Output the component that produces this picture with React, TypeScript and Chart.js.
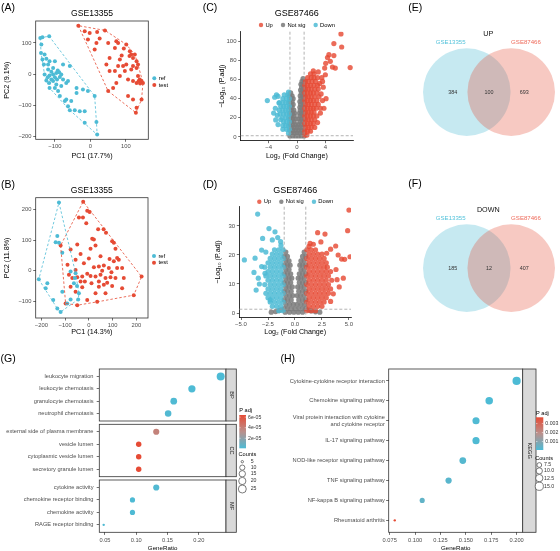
import React, { useEffect, useRef } from "react";
import { Chart, registerables } from "chart.js";

Chart.register(...registerables);

const W = 560;
const H = 551;
const FONT = "'Liberation Sans', Arial, Helvetica, sans-serif";
const RED = "#E64B35";
const BLUE = "#4DBBD5";
const TICK_TEXT = "#4D4D4D";
const LINE = "#333333";

type P = [number, number];

// ---------------- (A)/(B) PCA ----------------
const pcaTitle = "GSE13355";
const pcaGroups = ["ref", "test"];
const pcaATitles = ["PC1 (17.7%)", "PC2 (9.1%)"];
const pcaBTitles = ["PC1 (14.3%)", "PC2 (11.8%)"];
const pcaATicksX = [-100, 0, 100];
const pcaATicksY = [-200, -100, 0, 100];
const pcaBTicksX = [-200, -100, 0, 100, 200];
const pcaBTicksY = [-100, 0, 100, 200];

const pcaARef: P[] = [
  [-141, 116], [-135, 118], [-116, 121], [-138, 95], [-139, 68], [-129, 63], [-135, 47], [-124, 49],
  [-131, 31], [-115, 41], [-119, 15], [-105, 20], [-100, 41], [-129, -1], [-115, -4], [-105, -1],
  [-96, 4], [-88, 6], [-82, -1], [-77, -17], [-94, -17], [-105, -22], [-116, -28], [-124, -20],
  [-115, -44], [-100, -44], [-91, -54], [-82, -38], [-68, -28], [-63, -22], [-58, 26], [-77, 31],
  [-86, -70], [-68, -81], [-54, -86], [-39, -60], [-39, -44], [-21, -49], [-7, -54], [-44, -115],
  [-58, -115], [-30, -118], [-16, -118], [-16, -155], [12, -70], [17, -153], [19, -193], [-63, -102],
  [-72, -86], [-96, -33], [-110, -17], [-86, -9], [-119, 31], [-110, 8], [-92, 12], [-120, -10], [-100, -10],
];
const pcaATest: P[] = [
  [-34, 155], [-2, 132], [19, 135], [41, 140], [26, 114], [50, 100], [73, 105], [78, 100], [69, 84],
  [94, 82], [101, 95], [111, 73], [115, 63], [120, 52], [125, 63], [130, 41], [120, 26], [130, 20],
  [134, -6], [139, -17], [144, -22], [148, -28], [130, -28], [120, -22], [106, -17], [97, 10], [92, 26],
  [78, 26], [69, 10], [54, 10], [45, 31], [54, 52], [17, 100], [12, 79], [-7, 111], [-16, 137], [83, 47],
  [106, -70], [120, -81], [130, -107], [128, -123], [144, -81], [50, -54], [64, -44], [73, -28], [83, -6],
  [101, 31], [115, 15], [134, 31], [140, -30], [136, -22], [110, 58], [88, 60],
];
const pcaBRef: P[] = [
  [-126, 224], [-133, 114], [-140, 94], [-126, 92], [-112, 59], [-211, -28], [-182, -57], [-175, -41],
  [-150, -96], [-133, -124], [-119, -135], [-112, -69], [-77, -94], [-91, -107], [-42, -74], [-59, -24],
  [-77, -2], [-63, -41], [-45, -94], [-50, -50], [-56, -8],
];
const pcaBTest: P[] = [
  [-24, 227], [-7, 197], [3, 193], [-11, 156], [-42, 175], [-25, 175], [-119, 83], [-77, 70], [-49, 86],
  [39, 136], [62, 136], [72, 125], [14, 105], [21, 103], [28, 83], [7, 72], [98, 97], [105, 92], [112, 72],
  [49, 48], [87, 39], [119, 42], [126, 36], [105, 31], [-56, 36], [-21, 25], [21, 12], [42, 14], [63, 17],
  [84, 9], [119, 9], [140, 9], [-84, -13], [-70, -24], [-49, -21], [-28, -19], [-7, -10], [7, -17],
  [28, -19], [49, -13], [70, -24], [91, -21], [112, -24], [147, -24], [222, -19], [189, -80], [140, -57],
  [98, -50], [63, -46], [42, -52], [28, -74], [70, -74], [35, -102], [-7, -96], [-28, -54], [-56, -69],
  [-77, -52], [-98, -107], [-49, -113], [-35, -35], [-17, -35], [11, -41], [42, -35], [77, -39], [-56, 3],
  [0, 40], [-35, 55], [56, 0], [95, -5], [-90, 20],
];

// ---------------- (C)/(D) volcano ----------------
// dense cores are listed as rows: [-log10(padj), log2FC, log2FC, ...]
const volcTitle = "GSE87466";
const volcGroups = ["Up", "Not sig", "Down"];
const volcXTitle = "Log\u2082 (Fold Change)";
const volcYTitle = "\u2212Log\u2081\u2080 (P.adj)";
const fcCutoff = 1;
const padjCutoff = 0.05;
const volcCTicksX = [-4, 0, 4];
const volcCTicksY = [0, 20, 40, 60, 80, 100];
const volcDTicksX = [-5, -2.5, 0, 2.5, 5];
const volcDTicksY = [0, 10, 20, 30];

const volcCNotRows: number[][] = [
  [1, -1.0, -0.6, -0.2, 0.2, 0.6, 1.0], [4, -0.8, -0.4, 0, 0.4, 0.8], [7, -1.0, -0.6, -0.2, 0.2, 0.6, 1.0],
  [10, -0.8, -0.4, 0, 0.4, 0.8], [13, -1.0, -0.6, -0.2, 0.2, 0.6, 1.0], [16, -0.8, -0.4, 0.4, 0.8],
  [19, -1.0, -0.6, -0.25, 0.25, 0.6, 1.0], [22, -0.8, -0.4, 0.4, 0.8], [25, -1.0, -0.65, -0.35, 0.35, 0.65, 1.0],
  [28, -0.8, -0.45, 0.45, 0.8], [31, -1.0, -0.7, 0.4, 0.7, 1.0], [34, -0.85, -0.55, 0.5, 0.85],
  [37, -1.05, -0.7, 0.4, 0.7, 1.0], [40, -0.85, -0.55, 0.55, 0.85], [43, -1.05, -0.7, 0.45, 0.75, 1.0],
  [46, -0.9, 0.6, 0.9], [49, 0.5, 0.8, 1.0], [52, 0.65, 0.95], [55, 0.55, 0.85], [58, 0.7, 1.0], [61, 0.85],
];
const volcCUpRows: number[][] = [
  [2, 1.1, 1.4], [6, 1.1, 1.5, 1.9], [10, 1.2, 1.6, 2.0], [14, 1.1, 1.5, 1.9, 2.3], [18, 1.2, 1.6, 2.0, 2.5],
  [22, 1.1, 1.5, 1.9, 2.3, 2.8], [26, 1.2, 1.6, 2.0, 2.4], [30, 1.1, 1.5, 1.9, 2.3, 2.7, 3.3],
  [34, 1.2, 1.6, 2.0, 2.5, 3.0], [38, 1.1, 1.5, 1.9, 2.3, 2.8, 3.6], [42, 1.2, 1.6, 2.0, 2.5, 3.1],
  [46, 1.1, 1.5, 1.9, 2.3, 2.8], [50, 1.2, 1.6, 2.0, 2.5, 3.0], [54, 1.1, 1.5, 1.9, 2.4, 2.9],
  [58, 1.2, 1.6, 2.1, 2.6], [62, 1.5, 2.0, 2.4, 2.9], [66, 1.9, 2.4],
];
const volcCUpOut: P[] = [
  [2.3, 69], [3.0, 68], [3.5, 62], [4.0, 65], [3.2, 56], [3.7, 52], [3.4, 45], [4.1, 40], [3.8, 30],
  [3.3, 25], [2.9, 15], [2.5, 10], [3.9, 72], [4.05, 77], [4.3, 83], [4.7, 79], [5.2, 85], [5.4, 72],
  [5.2, 97.6], [6.2, 107.7], [6.3, 94], [7.5, 72.5], [4.5, 86], [5.0, 73], [3.6, 58],
];
const volcCDownRows: number[][] = [
  [4, -1.2], [8, -1.1, -1.5], [12, -1.2, -1.6, -2.0], [16, -1.1, -1.5, -1.9], [20, -1.2, -1.6, -2.1],
  [24, -1.1, -1.5, -1.9, -2.4], [28, -1.2, -1.6, -2.0], [32, -1.1, -1.5, -1.9, -2.3],
  [36, -1.2, -1.6, -2.0, -2.5], [40, -1.1, -1.5, -2.0], [44, -1.3, -1.8], [47, -1.2],
];
const volcCDownOut: P[] = [
  [-4.19, 38], [-3.15, 41.5], [-2.68, 42.5], [-2.54, 35.5], [-3.06, 30], [-2.78, 22.6], [-3.01, 17.8],
  [-2.68, 12.9], [-2.0, 8], [-3.3, 25], [-2.9, 44], [-2.3, 18], [-2.5, 28],
];

const volcDNotRows: number[][] = [
  [0.3, -0.9, -0.5, -0.1, 0.3, 0.7], [1.5, -1.0, -0.7, -0.35, 0, 0.35, 0.7, 1.0],
  [3, -0.85, -0.5, -0.15, 0.2, 0.55, 0.9], [4.5, -1.0, -0.7, -0.35, 0.35, 0.7, 1.0],
  [6, -0.85, -0.5, -0.2, 0.2, 0.5, 0.85], [7.5, -1.0, -0.7, -0.35, 0.35, 0.7, 1.0],
  [9, -0.85, -0.55, -0.25, 0.25, 0.55, 0.85], [10.5, -1.0, -0.7, -0.4, 0.4, 0.7, 1.0],
  [12, -0.85, -0.55, -0.3, 0.3, 0.55, 0.85], [13.5, -1.0, -0.7, -0.4, 0.4, 0.7, 1.0],
  [15, -0.85, -0.55, 0.55, 0.85], [16.5, -1.0, -0.7, -0.45, 0.45, 0.7, 1.0], [18, -0.85, -0.55, 0.55, 0.85],
  [19.5, -1.0, -0.7, 0.7, 1.0], [21, -0.85, 0.85],
];
const volcDNotOut: P[] = [
  [-1.5, 0.8], [-1.8, 0.5], [1.5, 0.7], [1.9, 0.4], [-1.3, 1.1], [1.3, 1.0], [-2.2, 0.3], [2.3, 0.3],
];
const volcDUpRows: number[][] = [
  [0.8, 1.1, 1.5, 1.9], [2.3, 1.3, 1.7, 2.1, 2.5], [3.8, 1.1, 1.5, 1.9, 2.3, 2.7],
  [5.3, 1.3, 1.7, 2.1, 2.5, 2.9], [6.8, 1.1, 1.5, 1.9, 2.3, 2.7, 3.1], [8.3, 1.3, 1.7, 2.1, 2.5, 2.9, 3.3],
  [9.8, 1.1, 1.5, 1.9, 2.3, 2.7, 3.1], [11.3, 1.3, 1.7, 2.1, 2.5, 2.9, 3.4], [12.8, 1.1, 1.5, 1.9, 2.3, 2.7, 3.1],
  [14.3, 1.3, 1.7, 2.1, 2.5, 2.9, 3.3], [15.8, 1.1, 1.5, 1.9, 2.3, 2.7, 3.0], [17.3, 1.3, 1.7, 2.1, 2.5, 2.9],
  [18.8, 1.1, 1.5, 1.9, 2.3, 2.7], [20.3, 1.3, 1.7, 2.1, 2.5], [21.8, 1.1, 1.5, 1.9], [23, 1.3],
];
const volcDUpOut: P[] = [
  [5.0, 35.5], [4.88, 28.4], [5.1, 19.4], [2.1, 27.7], [2.78, 27.2], [3.77, 23.1], [4.32, 18.6],
  [4.6, 18.5], [4.48, 12], [3.55, 6.6], [1.7, 23.7], [2.93, 20.6], [4.0, 20], [3.8, 15], [4.1, 9],
  [3.3, 4], [2.4, 24.5], [1.4, 24], [3.3, 22], [3.9, 11.5],
];
const volcDDownRows: number[][] = [
  [0.8, -1.1, -1.5], [2.3, -1.3, -1.7, -2.1], [3.8, -1.1, -1.5, -1.9, -2.3], [5.3, -1.3, -1.7, -2.1, -2.5],
  [6.8, -1.1, -1.5, -1.9, -2.3, -2.7], [8.3, -1.3, -1.7, -2.1, -2.5], [9.8, -1.1, -1.5, -1.9, -2.3, -2.8],
  [11.3, -1.3, -1.7, -2.1, -2.5], [12.8, -1.1, -1.5, -1.9, -2.3, -2.7], [14.3, -1.3, -1.7, -2.1, -2.5],
  [15.8, -1.1, -1.5, -1.9, -2.3, -2.8], [17.3, -1.3, -1.7, -2.1, -2.5], [18.8, -1.1, -1.5, -1.9, -2.3],
  [20.3, -1.3, -1.7, -2.1], [21.8, -1.1, -1.5, -1.9], [23.3, -1.3],
];
const volcDDownOut: P[] = [
  [-3.46, 34.1], [-2.41, 29.1], [-1.85, 28], [-3.0, 25.7], [-2.1, 25.2], [-1.33, 24.6], [-4.69, 18.3],
  [-3.7, 18.9], [-3.09, 21.7], [-3.4, 12], [-3.6, 7.9], [-3.09, 16], [-2.78, 13.7], [-2.3, 4.5],
  [-3.3, 10], [-3.8, 14], [-2.7, 21], [-1.6, 26],
];

// ---------------- (E)/(F) Venn ----------------
const vennSets = ["GSE13355", "GSE87466"];
const vennTitles = ["UP", "DOWN"];
const vennUpCounts = [384, 100, 693];
const vennDownCounts = [185, 12, 407];

// ---------------- (G) GO dot plot ----------------
const goFacets = ["BP", "CC", "MF"];
const goXTitle = "GeneRatio";
const goBPTerms = ["leukocyte migration", "leukocyte chemotaxis", "granulocyte chemotaxis", "neutrophil chemotaxis"];
const goBPRatio = [0.235, 0.189, 0.16, 0.151];
const goBPCount = [25, 20, 17, 16];
const goBPPadj = [1.1e-6, 1.3e-6, 2.0e-6, 2.4e-6];
const goCCTerms = ["external side of plasma membrane", "vesicle lumen", "cytoplasmic vesicle lumen", "secretory granule lumen"];
const goCCRatio = [0.132, 0.104, 0.104, 0.104];
const goCCCount = [14, 11, 11, 11];
const goCCPadj = [3.9e-5, 6.4e-5, 6.4e-5, 6.4e-5];
const goMFTerms = ["cytokine activity", "chemokine receptor binding", "chemokine activity", "RAGE receptor binding"];
const goMFRatio = [0.132, 0.094, 0.094, 0.048];
const goMFCount = [14, 10, 10, 5];
const goMFPadj = [2.5e-6, 1.5e-6, 1.5e-6, 1.9e-6];
const goTicksX = [0.05, 0.1, 0.15, 0.2];
const goPadjBreaks = [2e-5, 4e-5, 6e-5];
const goCountBreaks = [5, 10, 15, 20, 25];

// ---------------- (H) KEGG dot plot ----------------
const keggFacet = "KEGG";
const keggTerms: (string | string[])[] = [
  "Cytokine-cytokine receptor interaction",
  "Chemokine signaling pathway",
  ["Viral protein interaction with cytokine", "and cytokine receptor"],
  "IL-17 signaling pathway",
  "NOD-like receptor signaling pathway",
  "TNF signaling pathway",
  "NF-kappa B signaling pathway",
  "Rheumatoid arthritis",
];
const keggRatio = [0.2, 0.173, 0.16, 0.16, 0.147, 0.133, 0.107, 0.08];
const keggCount = [15, 13, 12, 12, 11, 10, 8, 6];
const keggPadj = [6.0e-5, 6.5e-5, 1.2e-4, 1.0e-4, 2.0e-4, 2.6e-4, 4.0e-4, 3.7e-3];
const keggTicksX = [0.075, 0.1, 0.125, 0.15, 0.175, 0.2];
const keggPadjBreaks = [0.001, 0.002, 0.003];
const keggCountBreaks = [7.5, 10, 12.5, 15];

// ---------------- helpers ----------------
const fromRows = (rows: number[][]): P[] => rows.flatMap(([y, ...xs]) => xs.map((x) => [x, y] as P));
const fmtMinus = (v: number, d = 0) => (v < 0 ? "\u2212" : "") + Math.abs(v).toFixed(d);
const fmtExp = (v: number) => {
  const [m, e] = v.toExponential(0).split("e");
  const n = Number(e);
  return `${m}e${n < 0 ? "-" : "+"}${String(Math.abs(n)).padStart(2, "0")}`;
};

function convexHull(pts: P[]): P[] {
  const p = [...pts].sort((a, b) => a[0] - b[0] || a[1] - b[1]);
  const cross = (o: P, a: P, b: P) => (a[0] - o[0]) * (b[1] - o[1]) - (a[1] - o[1]) * (b[0] - o[0]);
  const lower: P[] = [];
  for (const q of p) {
    while (lower.length >= 2 && cross(lower[lower.length - 2], lower[lower.length - 1], q) <= 0) lower.pop();
    lower.push(q);
  }
  const upper: P[] = [];
  for (const q of [...p].reverse()) {
    while (upper.length >= 2 && cross(upper[upper.length - 2], upper[upper.length - 1], q) <= 0) upper.pop();
    upper.push(q);
  }
  upper.pop();
  lower.pop();
  const h = lower.concat(upper);
  h.push(h[0]);
  return h;
}

const LOWC = [77, 187, 213];
const MIDC = [186, 144, 140];
const HIGHC = [230, 75, 53];
function mix(a: number[], b: number[], t: number) {
  return a.map((v, i) => Math.round(v + (b[i] - v) * t));
}
function gradColor(v: number, range: number[]) {
  let t = (v - range[0]) / (range[1] - range[0]);
  t = Math.max(0, Math.min(1, t));
  const c = t < 0.5 ? mix(LOWC, MIDC, t * 2) : mix(MIDC, HIGHC, (t - 0.5) * 2);
  return `rgb(${c[0]},${c[1]},${c[2]})`;
}
function sizeScale(c: number, cr: number[], rr: number[]) {
  const t = Math.max(0, (c - cr[0]) / (cr[1] - cr[0]));
  return rr[0] + (rr[1] - rr[0]) * Math.sqrt(t);
}

function drawText(ctx: CanvasRenderingContext2D, s: string, x: number, y: number, size: number, color = "#000", align: CanvasTextAlign = "center", rot = 0) {
  ctx.save();
  ctx.font = `${size}px ${FONT}`;
  ctx.fillStyle = color;
  ctx.textAlign = align;
  ctx.textBaseline = "middle";
  ctx.translate(x, y);
  if (rot) ctx.rotate(rot);
  ctx.fillText(s, 0, 0);
  ctx.restore();
}

function makeAxis(o: any) {
  return {
    type: "linear",
    min: o.min,
    max: o.max,
    reverse: !!o.reverse,
    afterBuildTicks: (s: any) => {
      s.ticks = o.ticks.map((v: number) => ({ value: v }));
    },
    afterFit: (s: any) => {
      if (o.horiz) s.height = o.fit;
      else s.width = o.fit;
    },
    ticks: {
      autoSkip: false,
      maxRotation: 0,
      minRotation: 0,
      padding: o.tickPad,
      color: TICK_TEXT,
      font: { family: FONT, size: o.tickSize, lineHeight: 1.2 },
      callback: (v: number) => o.fmt(v),
    },
    grid: { display: true, drawOnChartArea: false, drawTicks: true, tickLength: o.tickLen ?? 2.5, color: LINE, lineWidth: 0.7 },
    border: { display: !!o.border, color: "#000", width: 0.8 },
    title: o.title
      ? {
          display: true,
          text: o.title,
          color: "#000",
          font: { family: FONT, size: o.titleSize, lineHeight: o.titleLH ?? 1.2 },
          padding: o.horiz ? { top: 0, bottom: o.titlePad } : { top: o.titlePad, bottom: 0 },
        }
      : { display: false },
  };
}

function baseOptions(padding: any, scales: any) {
  return {
    responsive: false,
    maintainAspectRatio: false,
    animation: false,
    events: [],
    layout: { padding, autoPadding: false },
    plugins: { legend: { display: false }, tooltip: { enabled: false }, title: { display: false } },
    scales,
  };
}

const pts = (a: P[]) => a.map(([x, y]) => ({ x, y }));

// ---------------- PCA ----------------
function pcaConfig(o: any) {
  const { area } = o;
  return {
    type: "scatter",
    data: {
      datasets: [
        { data: pts(convexHull(o.ref)), showLine: true, fill: false, borderColor: BLUE, borderWidth: 0.8, borderDash: [2.5, 2], pointRadius: 0, tension: 0 },
        { data: pts(convexHull(o.test)), showLine: true, fill: false, borderColor: RED, borderWidth: 0.8, borderDash: [2.5, 2], pointRadius: 0, tension: 0 },
        { data: pts(o.ref), backgroundColor: BLUE, borderWidth: 0, pointRadius: 2 },
        { data: pts(o.test), backgroundColor: RED, borderWidth: 0, pointRadius: 2 },
      ],
    },
    options: baseOptions(
      { left: 0, top: area.t, right: W - area.r, bottom: H - o.regionBottom },
      {
        x: makeAxis({ horiz: true, min: o.xr[0], max: o.xr[1], ticks: o.ticksX, fmt: (v: number) => fmtMinus(v), fit: o.regionBottom - area.b, tickSize: 5.8, tickPad: 1.2, title: o.titles[0], titleSize: 7.2, titlePad: o.xTitlePad }),
        y: makeAxis({ horiz: false, min: o.yr[0], max: o.yr[1], ticks: o.ticksY, fmt: (v: number) => fmtMinus(v), fit: area.l, tickSize: 5.8, tickPad: 1.7, title: o.titles[1], titleSize: 7.2, titlePad: 3 }),
      }
    ),
    plugins: [
      {
        id: "pcaDeco",
        afterDatasetsDraw(chart: any) {
          const ctx = chart.ctx;
          const a = chart.chartArea;
          ctx.save();
          ctx.strokeStyle = LINE;
          ctx.lineWidth = 0.8;
          ctx.strokeRect(a.left, a.top, a.right - a.left, a.bottom - a.top);
          ctx.restore();
          drawText(ctx, pcaTitle, (a.left + a.right) / 2, o.titleY, 8.6);
          const cy = (a.top + a.bottom) / 2 + 1.5;
          [BLUE, RED].forEach((col, i) => {
            const y = cy + (i - 0.5) * 6.6;
            ctx.save();
            ctx.fillStyle = col;
            ctx.beginPath();
            ctx.arc(a.right + 6, y, 2, 0, Math.PI * 2);
            ctx.fill();
            ctx.restore();
            drawText(ctx, pcaGroups[i], a.right + 10.4, y, 5.8, "#000", "left");
          });
        },
      },
    ],
  };
}

// ---------------- Volcano ----------------
const VOLC_COLORS = ["rgba(230,75,53,0.82)", "rgba(125,125,125,0.88)", "rgba(77,187,213,0.85)"];
function volcConfig(o: any) {
  const { area } = o;
  const ds = (d: P[], c: string) => ({ data: pts(d), backgroundColor: c, borderWidth: 0, pointRadius: 2.6 });
  return {
    type: "scatter",
    data: { datasets: [ds(o.up, VOLC_COLORS[0]), ds(o.down, VOLC_COLORS[2]), ds(o.not, VOLC_COLORS[1])] },
    options: baseOptions(
      { left: 190, top: area.t, right: W - area.r, bottom: H - o.regionBottom },
      {
        x: makeAxis({ horiz: true, border: true, min: o.xr[0], max: o.xr[1], ticks: o.ticksX, fmt: o.fmtX, fit: o.regionBottom - area.b, tickSize: 6, tickPad: 0.4, title: volcXTitle, titleSize: 7.1, titlePad: o.xTitlePad }),
        y: makeAxis({ horiz: false, border: true, min: o.yr[0], max: o.yr[1], ticks: o.ticksY, fmt: (v: number) => fmtMinus(v), fit: area.l - 190, tickSize: 6, tickPad: 1.7, title: volcYTitle, titleSize: 7.1, titlePad: o.yTitlePad }),
      }
    ),
    plugins: [
      {
        id: "volcDeco",
        afterDatasetsDraw(chart: any) {
          const ctx = chart.ctx;
          const a = chart.chartArea;
          const sx = chart.scales.x;
          const sy = chart.scales.y;
          ctx.save();
          ctx.strokeStyle = "#9a9a9a";
          ctx.lineWidth = 0.75;
          ctx.setLineDash([3, 2]);
          [-fcCutoff, fcCutoff].forEach((v) => {
            const x = sx.getPixelForValue(v);
            ctx.beginPath();
            ctx.moveTo(x, a.top);
            ctx.lineTo(x, a.bottom);
            ctx.stroke();
          });
          const yh = sy.getPixelForValue(-Math.log10(padjCutoff));
          ctx.beginPath();
          ctx.moveTo(a.left, yh);
          ctx.lineTo(a.right, yh);
          ctx.stroke();
          ctx.restore();
          const cx = (a.left + a.right) / 2;
          drawText(ctx, volcTitle, cx, o.titleY, 9);
          ctx.save();
          ctx.font = `5.8px ${FONT}`;
          const r = 2.2, gap = 2.2, space = 8;
          const widths = volcGroups.map((l) => ctx.measureText(l).width);
          const total = widths.reduce((s, w) => s + 2 * r + gap + w, 0) + space * (volcGroups.length - 1);
          let x = cx - total / 2;
          ctx.restore();
          volcGroups.forEach((l, i) => {
            ctx.save();
            ctx.fillStyle = VOLC_COLORS[i];
            ctx.beginPath();
            ctx.arc(x + r, o.legendY, r, 0, Math.PI * 2);
            ctx.fill();
            ctx.restore();
            drawText(ctx, l, x + 2 * r + gap, o.legendY, 5.8, "#000", "left");
            x += 2 * r + gap + widths[i] + space;
          });
        },
      },
    ],
  };
}

// ---------------- Venn ----------------
const VENN_R = 0.986;
const VENN_FILLS = ["rgba(77,187,213,0.32)", "rgba(230,75,53,0.3)"];
const VENN_TEXT = ["#55C3DB", "#EE6A5A"];
function vennConfig(o: any) {
  return {
    type: "scatter",
    data: {
      datasets: vennSets.map((_, i) => ({
        data: [{ x: i, y: 0 }],
        backgroundColor: VENN_FILLS[i],
        borderWidth: 0,
        order: i === 0 ? 1 : 0,
        clip: false,
        pointRadius: (c: any) => {
          const s = c.chart.scales.x;
          return s.getPixelForValue(VENN_R) - s.getPixelForValue(0);
        },
      })),
    },
    options: baseOptions(
      { left: 380, right: 0, top: o.top, bottom: H - o.top - 175 },
      {
        x: { type: "linear", display: false, min: -1.955, max: 2.099 },
        y: { type: "linear", display: false, min: -1.87, max: 2.078 },
      }
    ),
    plugins: [
      {
        id: "vennText",
        afterDatasetsDraw(chart: any) {
          const ctx = chart.ctx;
          const sx = chart.scales.x;
          const sy = chart.scales.y;
          drawText(ctx, o.title, sx.getPixelForValue(0.484), sy.getPixelForValue(1.31), 7.2, "#111");
          drawText(ctx, vennSets[0], sx.getPixelForValue(-0.363), sy.getPixelForValue(1.115), 6.1, VENN_TEXT[0]);
          drawText(ctx, vennSets[1], sx.getPixelForValue(1.333), sy.getPixelForValue(1.115), 6.1, VENN_TEXT[1]);
          const cxs = [-0.318, 0.5, 1.295];
          o.counts.forEach((n: number, i: number) => {
            drawText(ctx, String(n), sx.getPixelForValue(cxs[i]), sy.getPixelForValue(0), 5.4, "#333");
          });
        },
      },
    ],
  };
}

// ---------------- Dot plots ----------------
function drawDotLegend(ctx: CanvasRenderingContext2D, L: any) {
  drawText(ctx, "P adj", L.x, L.titleY, 5.6, "#000", "left");
  const g = ctx.createLinearGradient(0, L.barBottom, 0, L.barTop);
  g.addColorStop(0, `rgb(${LOWC.join(",")})`);
  g.addColorStop(0.5, `rgb(${MIDC.join(",")})`);
  g.addColorStop(1, `rgb(${HIGHC.join(",")})`);
  ctx.save();
  ctx.fillStyle = g;
  ctx.fillRect(L.x, L.barTop, L.barW, L.barBottom - L.barTop);
  ctx.strokeStyle = "#fff";
  ctx.lineWidth = 0.5;
  L.breaks.forEach((b: number) => {
    const t = (b - L.pRange[0]) / (L.pRange[1] - L.pRange[0]);
    const y = L.barBottom - t * (L.barBottom - L.barTop);
    ctx.beginPath();
    ctx.moveTo(L.x, y);
    ctx.lineTo(L.x + L.barW * 0.2, y);
    ctx.moveTo(L.x + L.barW * 0.8, y);
    ctx.lineTo(L.x + L.barW, y);
    ctx.stroke();
    drawText(ctx, L.fmtP(b), L.x + L.barW + 2, y, 5.2, "#333", "left");
  });
  ctx.restore();
  drawText(ctx, "Counts", L.x - 0.8, L.countsY, 5.6, "#000", "left");
  let y = L.firstY;
  let prevR = 0;
  L.countBreaks.forEach((c: number, i: number) => {
    const r = sizeScale(c, L.cRange, L.rRange);
    if (i > 0) y += Math.max(5.9, prevR + r + 0.4);
    ctx.save();
    ctx.fillStyle = "#fff";
    ctx.strokeStyle = "#444";
    ctx.lineWidth = 0.7;
    ctx.beginPath();
    ctx.arc(L.circleX, y, r, 0, Math.PI * 2);
    ctx.fill();
    ctx.stroke();
    ctx.restore();
    drawText(ctx, L.fmtC(c), L.labelX, y, 5.2, "#333", "left");
    prevR = r;
  });
}

function dotConfig(o: any) {
  const { area } = o;
  const n = o.terms.length;
  return {
    type: "scatter",
    data: {
      datasets: [
        {
          data: o.ratio.map((x: number, i: number) => ({ x, y: i })),
          pointRadius: o.count.map((c: number) => sizeScale(c, o.cRange, o.rRange)),
          backgroundColor: o.padj.map((p: number) => gradColor(p, o.pRange)),
          borderWidth: 0,
          clip: false,
        },
      ],
    },
    options: baseOptions(
      { left: o.left, top: area.t, right: W - area.r, bottom: o.showX ? H - o.regionBottom : H - area.b },
      {
        x: o.showX
          ? makeAxis({ horiz: true, min: o.xr[0], max: o.xr[1], ticks: o.ticksX, fmt: o.fmtX, fit: o.regionBottom - area.b, tickSize: 5.7, tickPad: 2.4, tickLen: 2.6, title: goXTitle, titleSize: 6.2, titlePad: 0, titleLH: 1 })
          : { type: "linear", display: false, min: o.xr[0], max: o.xr[1] },
        y: makeAxis({ horiz: false, reverse: true, min: -0.6, max: n - 0.4, ticks: o.terms.map((_: any, i: number) => i), fmt: (v: number) => o.terms[v], fit: area.l - o.left, tickSize: 5.7, tickPad: o.tickPadY, tickLen: 2.6 }),
      }
    ),
    plugins: [
      {
        id: "dotDeco",
        afterDatasetsDraw(chart: any) {
          const ctx = chart.ctx;
          const a = chart.chartArea;
          ctx.save();
          ctx.lineWidth = 0.8;
          ctx.strokeStyle = LINE;
          ctx.strokeRect(a.left, a.top, a.right - a.left, a.bottom - a.top);
          ctx.fillStyle = "#D9D9D9";
          ctx.fillRect(a.right, a.top, o.stripW, a.bottom - a.top);
          ctx.strokeRect(a.right, a.top, o.stripW, a.bottom - a.top);
          ctx.restore();
          drawText(ctx, o.strip, a.right + o.stripW / 2, (a.top + a.bottom) / 2, 5.6, "#1A1A1A", "center", Math.PI / 2);
          if (o.legend) drawDotLegend(ctx, o.legend);
        },
      },
    ],
  };
}

const goAllPadj = [...goBPPadj, ...goCCPadj, ...goMFPadj];
const goAllCount = [...goBPCount, ...goCCCount, ...goMFCount];
const goPRange = [Math.min(...goAllPadj), Math.max(...goAllPadj)];
const goCRange = [Math.min(...goAllCount), Math.max(...goAllCount)];
const goRRange = [1.2, 4];
const goXR = [0.041, 0.2435];
const keggPRange = [Math.min(...keggPadj), Math.max(...keggPadj)];
const keggCRange = [Math.min(...keggCount), Math.max(...keggCount)];
const keggRRange = [1.2, 4.1];

const goCommon = {
  left: 0, xr: goXR, ticksX: goTicksX, fmtX: (v: number) => v.toFixed(2), pRange: goPRange, cRange: goCRange,
  rRange: goRRange, stripW: 10.3, tickPadY: 3.2,
};

const LAYERS: (() => any)[] = [
  () => pcaConfig({ ref: pcaARef, test: pcaATest, area: { l: 35.7, t: 21, r: 148.3, b: 139.3 }, regionBottom: 162, xr: [-154, 163], yr: [-208, 170], ticksX: pcaATicksX, ticksY: pcaATicksY, titles: pcaATitles, xTitlePad: 2, titleY: 14 }),
  () => pcaConfig({ ref: pcaBRef, test: pcaBTest, area: { l: 35.7, t: 197.7, r: 148, b: 318 }, regionBottom: 340, xr: [-224, 249], yr: [-155, 240], ticksX: pcaBTicksX, ticksY: pcaBTicksY, titles: pcaBTitles, xTitlePad: 4, titleY: 190.7 }),
  () => volcConfig({ up: [...fromRows(volcCUpRows), ...volcCUpOut], not: fromRows(volcCNotRows), down: [...fromRows(volcCDownRows), ...volcCDownOut], area: { l: 240.7, t: 31.7, r: 353, b: 140.7 }, regionBottom: 162, xr: [-7.95, 7.9], yr: [-3.9, 110], ticksX: volcCTicksX, ticksY: volcCTicksY, fmtX: (v: number) => fmtMinus(v), xTitlePad: 2, yTitlePad: 27.7, titleY: 13.3, legendY: 25 }),
  () => volcConfig({ up: [...fromRows(volcDUpRows), ...volcDUpOut], not: [...fromRows(volcDNotRows), ...volcDNotOut], down: [...fromRows(volcDDownRows), ...volcDDownOut], area: { l: 239.3, t: 206.7, r: 351, b: 317.5 }, regionBottom: 340, xr: [-5.16, 5.19], yr: [-1.55, 36.65], ticksX: volcDTicksX, ticksY: volcDTicksY, fmtX: (v: number) => fmtMinus(v, 1), xTitlePad: 3.4, yTitlePad: 24, titleY: 190.7, legendY: 201.7 }),
  () => vennConfig({ top: 0, title: vennTitles[0], counts: vennUpCounts }),
  () => vennConfig({ top: 176, title: vennTitles[1], counts: vennDownCounts }),
  () => dotConfig({ ...goCommon, terms: goBPTerms, ratio: goBPRatio, count: goBPCount, padj: goBPPadj, area: { l: 99.3, t: 369, r: 226, b: 421 }, showX: false, strip: goFacets[0] }),
  () => dotConfig({ ...goCommon, terms: goCCTerms, ratio: goCCRatio, count: goCCCount, padj: goCCPadj, area: { l: 99.3, t: 424.3, r: 226, b: 476.7 }, showX: false, strip: goFacets[1] }),
  () =>
    dotConfig({
      ...goCommon, terms: goMFTerms, ratio: goMFRatio, count: goMFCount, padj: goMFPadj, area: { l: 99.3, t: 480, r: 226, b: 532.3 }, showX: true, regionBottom: 551, strip: goFacets[2],
      legend: { x: 239.3, titleY: 410, barTop: 415, barBottom: 448.3, barW: 6.7, pRange: goPRange, breaks: goPadjBreaks, fmtP: fmtExp, countsY: 454.7, firstY: 461.7, circleX: 242.3, labelX: 250.7, countBreaks: goCountBreaks, cRange: goCRange, rRange: goRRange, fmtC: (v: number) => String(v) },
    }),
  () =>
    dotConfig({
      left: 280, terms: keggTerms, ratio: keggRatio, count: keggCount, padj: keggPadj, area: { l: 388.7, t: 369, r: 522.7, b: 532.3 }, showX: true, regionBottom: 551,
      xr: [0.074, 0.206], ticksX: keggTicksX, fmtX: (v: number) => v.toFixed(3), pRange: keggPRange, cRange: keggCRange, rRange: keggRRange, stripW: 13.3, tickPadY: 1.2, strip: keggFacet,
      legend: { x: 536, titleY: 413.3, barTop: 417.3, barBottom: 450, barW: 7.3, pRange: keggPRange, breaks: keggPadjBreaks, fmtP: (v: number) => v.toFixed(3), countsY: 458.3, firstY: 465, circleX: 539.3, labelX: 544, countBreaks: keggCountBreaks, cRange: keggCRange, rRange: keggRRange, fmtC: (v: number) => v.toFixed(1) },
    }),
];

const PANEL_LABELS: { t: string; x: number; y: number }[] = [
  { t: "(A)", x: 1, y: 7.2 },
  { t: "(B)", x: 1, y: 184 },
  { t: "(C)", x: 202.7, y: 7.2 },
  { t: "(D)", x: 202.7, y: 184 },
  { t: "(E)", x: 408.3, y: 6.7 },
  { t: "(F)", x: 408.3, y: 183.3 },
  { t: "(G)", x: 0.5, y: 358 },
  { t: "(H)", x: 280.5, y: 358 },
];

function Layer({ make }: { make: () => any }) {
  const ref = useRef<HTMLCanvasElement>(null);
  useEffect(() => {
    const chart = new Chart(ref.current as HTMLCanvasElement, make());
    return () => chart.destroy();
  }, []);
  return <canvas ref={ref} width={W} height={H} style={{ position: "absolute", left: 0, top: 0, width: W, height: H }} />;
}

export default function App() {
  return (
    <div style={{ position: "absolute", left: 0, top: 0, width: W, height: H, background: "#fff", overflow: "hidden", fontFamily: FONT }}>
      {LAYERS.map((m, i) => (
        <Layer key={i} make={m} />
      ))}
      {PANEL_LABELS.map((p) => (
        <div key={p.t} style={{ position: "absolute", left: p.x, top: p.y - 6, fontSize: 10.5, lineHeight: "12px", color: "#000", whiteSpace: "nowrap" }}>
          {p.t}
        </div>
      ))}
    </div>
  );
}
